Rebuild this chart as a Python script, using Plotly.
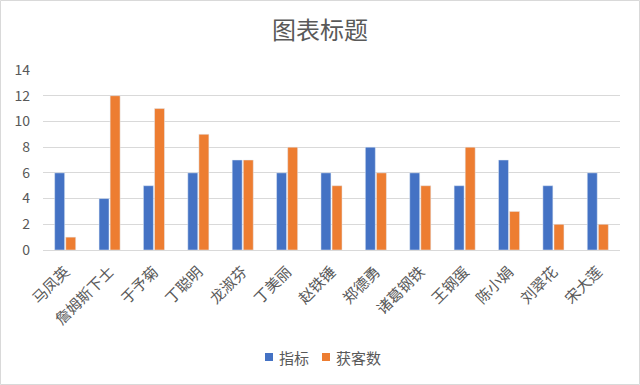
import plotly.graph_objects as go

categories = ["马凤英", "詹姆斯下士", "于予菊", "丁聪明", "龙淑芬", "丁美丽", "赵铁锤", "郑德勇", "诸葛钢铁", "王钢蛋", "陈小娟", "刘翠花", "宋大莲"]
zhibiao = [6, 4, 5, 6, 7, 6, 6, 8, 6, 5, 7, 5, 6]
huoke = [1, 12, 11, 9, 7, 8, 5, 6, 5, 8, 3, 2, 2]
y_ticks = [0, 2, 4, 6, 8, 10, 12, 14]
series_names = ["指标", "获客数"]
series_colors = ["#4472C4", "#ED7D31"]

W, H = 640, 385
L, R, T, B = 43, 20, 70, 135
pw, ph = W - L - R, H - T - B

font = "Noto Sans CJK SC, Microsoft YaHei, sans-serif"
fig = go.Figure()
fig.add_trace(go.Bar(name=series_names[0], x=categories, y=zhibiao, marker_color=series_colors[0]))
fig.add_trace(go.Bar(name=series_names[1], x=categories, y=huoke, marker_color=series_colors[1]))

def px(x):
    return (x - L) / pw

def py(y):
    return (H - B - y) / ph

# custom legend (square + label) to match spacing
shapes = [dict(type="rect", xref="paper", yref="paper",
               x0=px(0.5), x1=px(W - 0.5), y0=py(H - 0.5), y1=py(0.5),
               line=dict(color="#D9D9D9", width=1), fillcolor="rgba(0,0,0,0)", layer="below")]
annotations = []
leg_items = [(265, 277), (322, 334)]
for (sx, tx), name, col in zip(leg_items, series_names, series_colors):
    shapes.append(dict(type="rect", xref="paper", yref="paper",
                       x0=px(sx), x1=px(sx + 8), y0=py(361), y1=py(353),
                       line=dict(width=0), fillcolor=col))
    annotations.append(dict(text=name, xref="paper", yref="paper", x=px(tx), y=py(357),
                            xanchor="left", yanchor="middle", showarrow=False,
                            font=dict(size=15, color="#595959", family=font)))

fig.update_layout(
    width=W, height=H,
    margin=dict(l=L, r=R, t=T, b=B, autoexpand=False),
    paper_bgcolor="white", plot_bgcolor="white",
    barmode="group", bargap=0.5, bargroupgap=0.1,
    font=dict(family=font, color="#595959", size=14),
    title=dict(text="图表标题", x=0.5, xanchor="center", y=1 - 31 / H, yanchor="middle",
               font=dict(size=24, color="#595959", family=font)),
    xaxis=dict(tickangle=-45, showline=True, linecolor="#D9D9D9", ticks="", automargin=False,
               ticklabelstandoff=6, tickfont=dict(size=15, color="#595959")),
    yaxis=dict(range=[0, 14], tickvals=y_ticks, showgrid=True, gridcolor="#D9D9D9", automargin=False,
               zeroline=False, ticks="", ticklabelstandoff=12, tickfont=dict(size=14, color="#595959")),
    showlegend=False,
    shapes=shapes,
    annotations=annotations,
)
fig.write_html("out.html", config={"displayModeBar": False},
               post_script="document.body.style.margin='0px';document.body.style.overflow='hidden';")
